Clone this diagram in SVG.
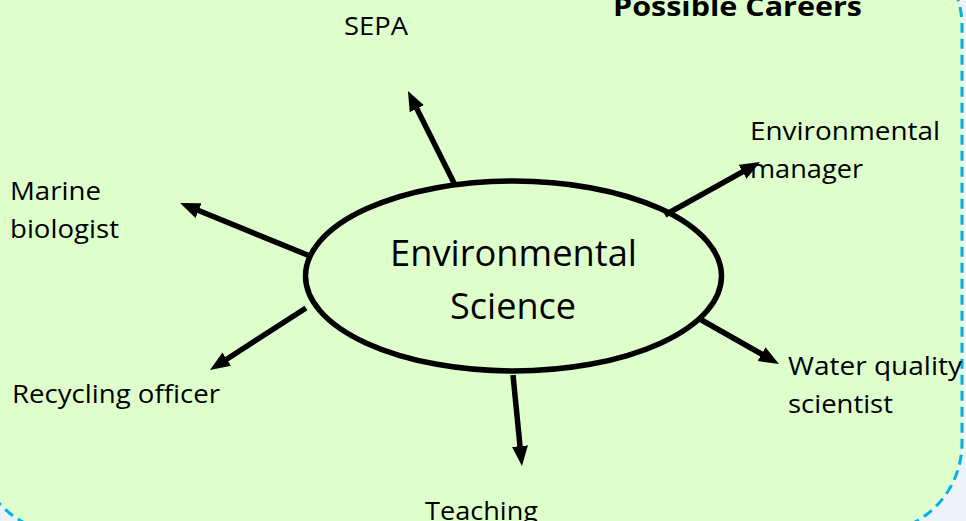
<svg xmlns="http://www.w3.org/2000/svg" width="966" height="521" viewBox="0 0 966 521">
  <style>
    .t { font-family: "Open Sans", "Noto Sans", "Liberation Sans", sans-serif; font-size: 26px; fill: #000; }
    .c { font-size: 36px; }
    .b { font-weight: bold; }
    .arr { stroke: #000; stroke-width: 5.5; fill: none; marker-end: url(#ah); }
  </style>
  <defs>
    <marker id="ah" markerUnits="userSpaceOnUse" markerWidth="20" markerHeight="16" viewBox="0 0 20 16" refX="2" refY="8" orient="auto">
      <path d="M0,0 L20,8 L0,16 z" fill="#000"/>
    </marker>
  </defs>
  <rect x="0" y="0" width="966" height="521" fill="#EEF3FB"/>
  <g id="panel">
    <rect x="-24" y="-64" width="986" height="597" rx="90" ry="90" fill="#DEFFCC" stroke="#00B0F0" stroke-width="3" stroke-dasharray="10 6"/>
    <text class="t b" x="613" y="16" textLength="249" lengthAdjust="spacingAndGlyphs">Possible Careers</text>
  </g>
  <g id="connectors">
    <line class="arr" x1="455" y1="185" x2="416" y2="107"/>
    <line class="arr" x1="665" y1="215" x2="744.3" y2="170.8"/>
    <line class="arr" x1="310" y1="256" x2="196.7" y2="209.8"/>
    <line class="arr" x1="306" y1="308" x2="225.1" y2="360.2"/>
    <line class="arr" x1="698" y1="318" x2="763.3" y2="355.1"/>
    <line class="arr" x1="513" y1="375" x2="520.2" y2="448.1"/>
  </g>
  <g id="center">
    <ellipse cx="513.5" cy="276" rx="208" ry="95" fill="none" stroke="#000" stroke-width="5.5"/>
    <text class="t c" x="390" y="266" textLength="247" lengthAdjust="spacingAndGlyphs">Environmental</text>
    <text class="t c" x="450" y="319" textLength="126" lengthAdjust="spacingAndGlyphs">Science</text>
  </g>
  <g id="sepa">
    <text class="t" x="344" y="35" textLength="64" lengthAdjust="spacingAndGlyphs">SEPA</text>
  </g>
  <g id="env-manager">
    <text class="t" x="750" y="140" textLength="190" lengthAdjust="spacingAndGlyphs">Environmental</text>
    <text class="t" x="750" y="178" textLength="113" lengthAdjust="spacingAndGlyphs">manager</text>
  </g>
  <g id="marine">
    <text class="t" x="10" y="200" textLength="91" lengthAdjust="spacingAndGlyphs">Marine</text>
    <text class="t" x="10" y="238" textLength="109" lengthAdjust="spacingAndGlyphs">biologist</text>
  </g>
  <g id="recycling">
    <text class="t" x="12" y="403" textLength="208" lengthAdjust="spacingAndGlyphs">Recycling officer</text>
  </g>
  <g id="water">
    <text class="t" x="788" y="375" textLength="174" lengthAdjust="spacingAndGlyphs">Water quality</text>
    <text class="t" x="788" y="413" textLength="105" lengthAdjust="spacingAndGlyphs">scientist</text>
  </g>
  <g id="teaching">
    <text class="t" x="425" y="520" textLength="113" lengthAdjust="spacingAndGlyphs">Teaching</text>
  </g>
</svg>
